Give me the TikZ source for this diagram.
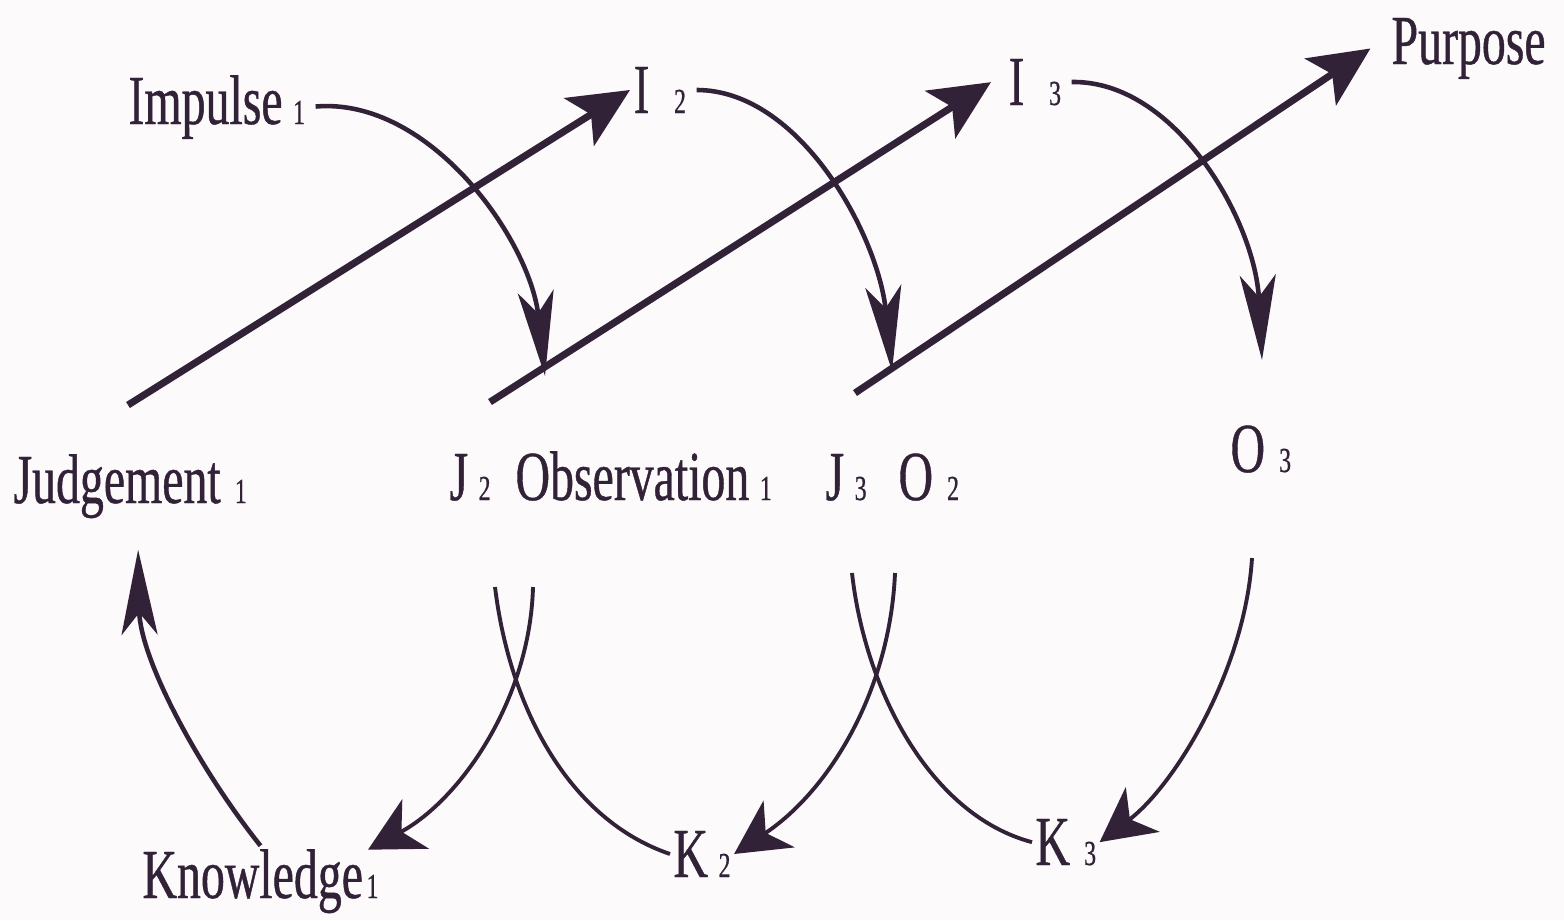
\documentclass[tikz,border=0pt]{standalone}
\usepackage{fontspec}
\setmainfont[FakeStretch=0.68,FakeBold=0.6]{Liberation Serif}
\usepackage{xcolor}
\usetikzlibrary{arrows.meta,calc}
\definecolor{ink}{RGB}{50,34,56}
\definecolor{paper}{RGB}{253,250,252}
\newcommand{\idx}[2][0.15em]{\hspace{#1}{\fontsize{10}{10}\selectfont #2}}
\tikzset{
  lbl/.style={inner sep=1pt, outer sep=0pt, anchor=base west, text=ink,
              font=\fontsize{20}{24}\selectfont},
  big/.style={-{Stealth[length=6mm,width=5.6mm,inset=1.4mm]}, line width=2pt, draw=ink},
  swing/.style={-{Stealth[length=8.5mm,width=3.6mm,inset=2.2mm]}, line width=1.3pt, draw=ink},
  back/.style={-{Stealth[length=5.4mm,width=5.6mm,inset=1.6mm]}, line width=1.1pt, draw=ink},
  strand/.style={line width=1.1pt, draw=ink}
}

\begin{document}
\begin{tikzpicture}[x=0.01cm, y=-0.01cm]
\fill[paper] (0,0) rectangle (1564,920);
\useasboundingbox (0,0) rectangle (1564,920);

\node[lbl] (imp) at (125,124) {Impulse\idx{1}};
\node[lbl] (i2) at (630,113) {I\idx[0.35em]{2}};
\node[lbl] (i3) at (1005,105) {I\idx[0.35em]{3}};
\node[lbl] (purp) at (1388,64) {Purpose};
\node[lbl] (judg) at (10,503) {Judgement\idx[0.2em]{1}};
\node[lbl] (j2) at (446,500) {J\idx{2}};
\node[lbl] (obs) at (512,500) {Observation\idx{1}};
\node[lbl] (j3) at (822,500) {J\idx{3}};
\node[lbl] (o2) at (895,500) {O\idx[0.2em]{2}};
\node[lbl] (o3) at (1227,472) {O\idx[0.2em]{3}};
\node[lbl] (know) at (139,898) {Knowledge\idx[0.05em]{1}};
\node[lbl] (k2) at (670,877) {K\idx{2}};
\node[lbl] (k3) at (1032,865) {K\idx[0.2em]{3}};

\coordinate (s1) at (128,405);
\coordinate (s2) at (490,402);
\coordinate (s3) at (855,393);
\coordinate (t1) at (545,376);
\coordinate (t2) at (892,371);
\coordinate (t3) at (1262,360);
\coordinate (a2) at (533,587);
\coordinate (b2) at (495,587);
\coordinate (a3) at (895,573);
\coordinate (b3) at (852,573);
\coordinate (a4) at (1252,558);

\draw[big] (s1) -- (i2.west);
\draw[big] (s2) -- ([xshift=-4pt]i3.west);
\draw[big] (s3) -- ([xshift=-5pt]purp.west);

\draw[swing, shorten <=2pt] (imp.east) .. controls (430,97) and (530,240) .. (t1);
\draw[swing, shorten <=2pt] (i2.east) .. controls (800,90) and (878,235) .. (t2);
\draw[swing, shorten <=2pt] (i3.east) .. controls (1175,80) and (1255,220) .. (t3);

\draw[swing] (know.north) .. controls (200,770) and (140,660) .. ($(judg.south)+(8,28)$);
\draw[back] (a2) .. controls (530,700) and (460,800) .. ($(know.north east)+(-14,4)$);
\draw[strand] (b2) .. controls (510,710) and (570,820) .. (k2.west);
\draw[back] (a3) .. controls (890,690) and (830,790) .. (k2.east);
\draw[strand] (b3) .. controls (865,690) and (930,815) .. (k3.west);
\draw[back] (a4) .. controls (1245,670) and (1175,785) .. (k3.east);
\end{tikzpicture}
\end{document}
